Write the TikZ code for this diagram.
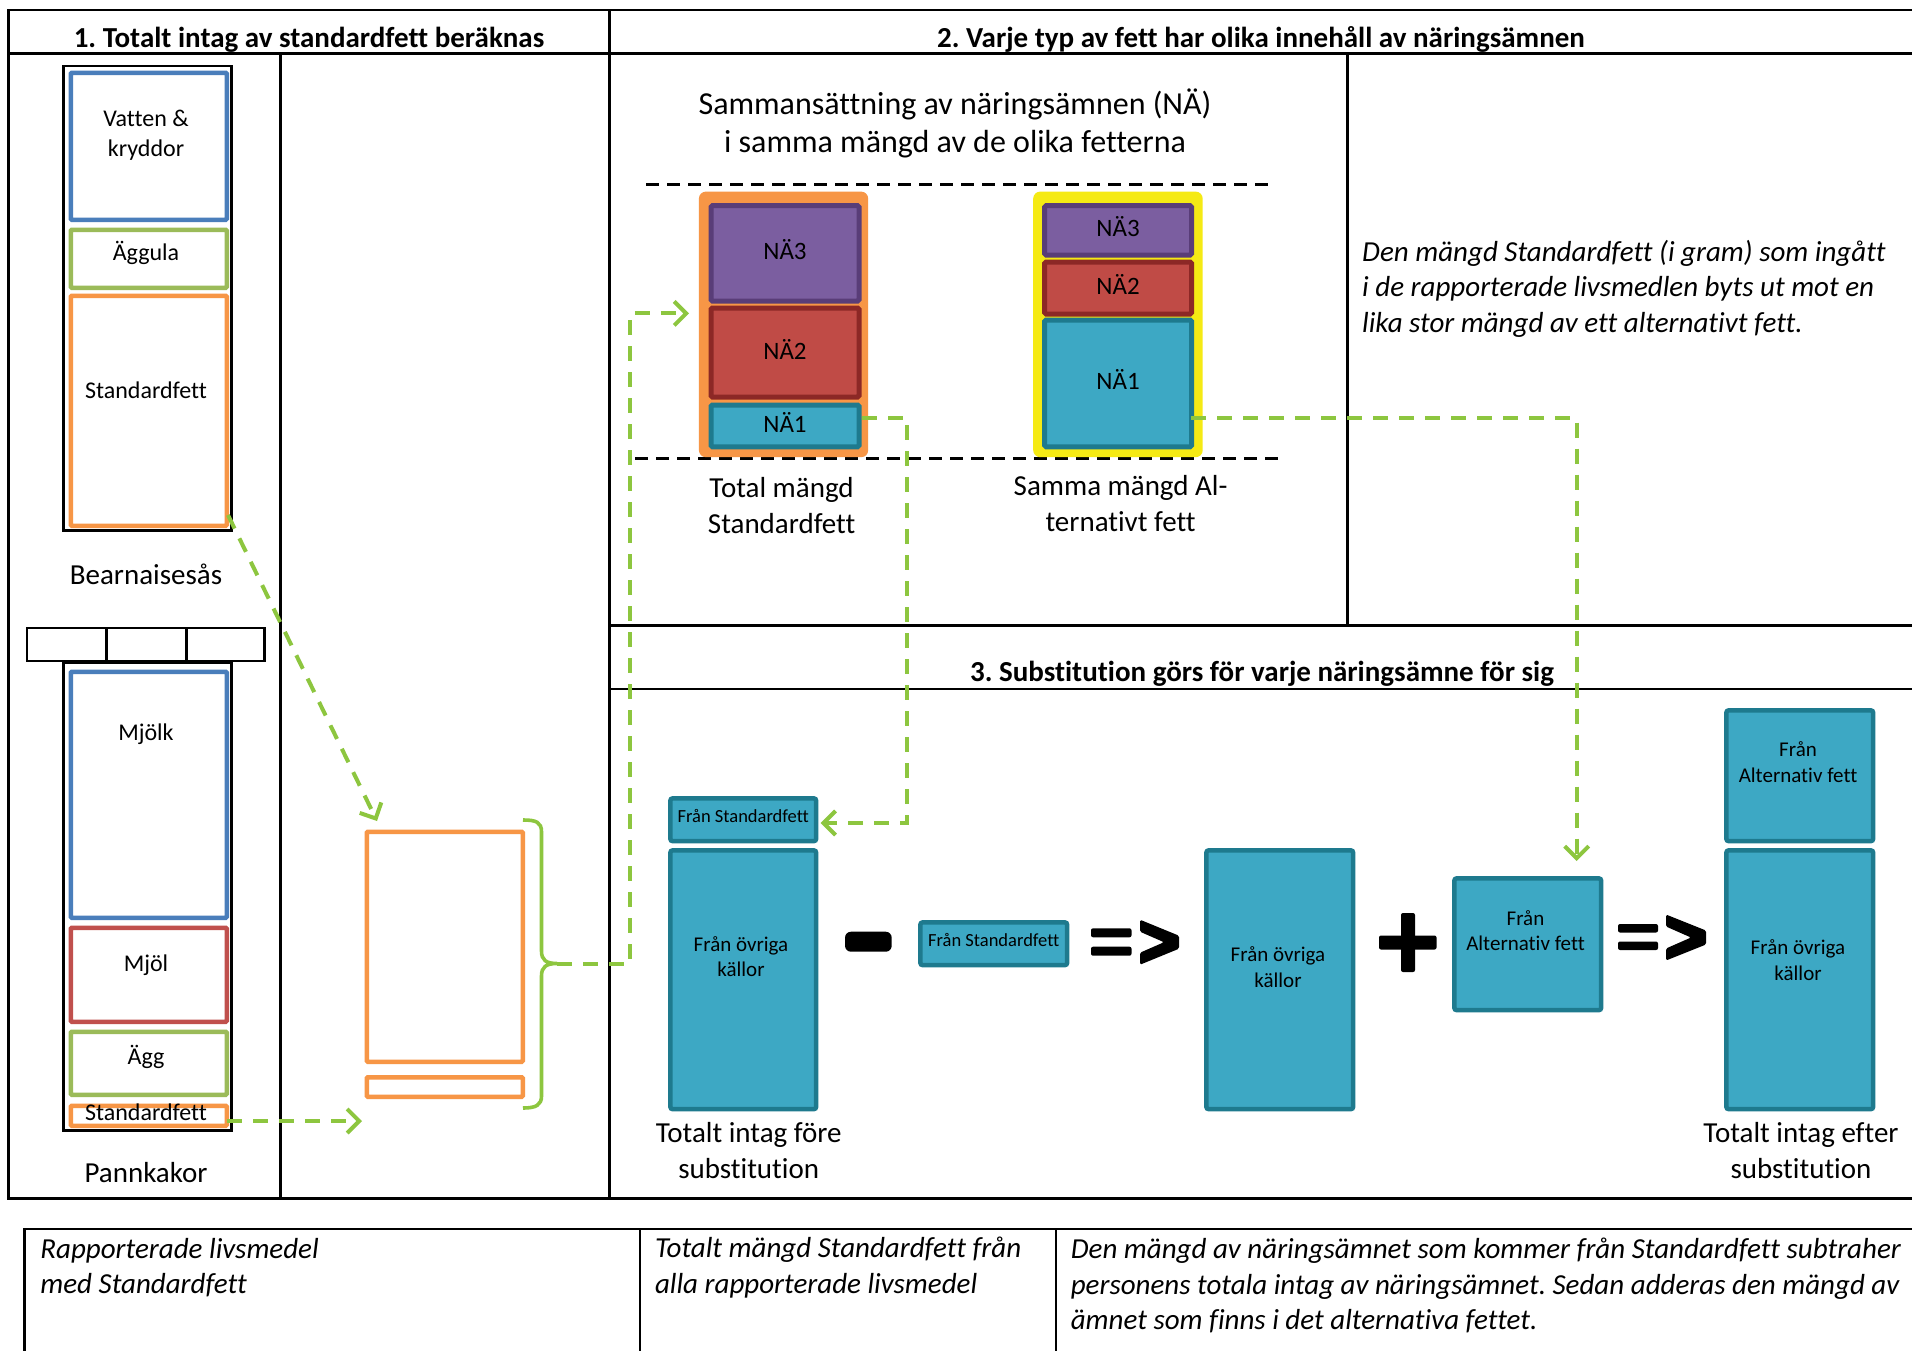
\documentclass[tikz,border=0pt]{standalone}
\usepackage{fontspec}
\setmainfont{Carlito}[Ligatures={NoCommon}]
\usetikzlibrary{arrows.meta}
\definecolor{gdash}{RGB}{141,198,63}
\definecolor{oblue}{RGB}{74,126,187}
\definecolor{ogreen}{RGB}{155,187,89}
\definecolor{oorange}{RGB}{247,150,70}
\definecolor{ored}{RGB}{192,80,77}
\definecolor{purplefill}{RGB}{123,94,160}
\definecolor{purpleline}{RGB}{89,61,120}
\definecolor{redfill}{RGB}{192,75,70}
\definecolor{redline}{RGB}{140,40,38}
\definecolor{tealfill}{RGB}{61,168,196}
\definecolor{tealline}{RGB}{30,122,142}
\definecolor{yel}{RGB}{245,234,20}
\frenchspacing
\begin{document}
\begin{tikzpicture}[x=1pt,y=-1pt,
  frame/.style={line width=2.6, black},
  cellbox/.style={draw, line width=2.6, inner sep=0, anchor=north west},
  ingbox/.style={draw, line width=4.5, inner sep=0, anchor=north west, rounded corners=1},
  lbl/.style={font=\fontsize{24}{29.5}\selectfont, align=center, inner sep=0},
  big/.style={font=\fontsize{29}{35.4}\selectfont, align=center, inner sep=0},
  hdr/.style={font=\fontsize{29}{35}\selectfont\bfseries, inner sep=0, anchor=base},
  nabox/.style={draw, line width=5, inner sep=0, anchor=north west, rounded corners=1.5, font=\fontsize{25}{30}\selectfont, text height=19pt, text depth=6pt},
  tealbox/.style={draw=tealline, fill=tealfill, line width=4.5, inner sep=0, anchor=north west, rounded corners=2},
  small/.style={font=\fontsize{18.5}{22}\selectfont, inner sep=0, text height=7.5pt, text depth=2.5pt},
  mid/.style={font=\fontsize{21}{25.6}\selectfont, align=center, inner sep=0},
  gd/.style={draw=gdash, line width=4, dash pattern=on 15pt off 11pt},
  garrow/.style={gd, -{Straight Barb[length=12pt,width=24pt]}},
  kdash/.style={line width=2.4, dash pattern=on 13pt off 8pt},
  ital/.style={font=\fontsize{29}{35.4}\selectfont\itshape, align=left, inner sep=0, anchor=west}
]
\useasboundingbox (0,0) rectangle (1912,1350);
\fill[white] (0,0) rectangle (1912,1350);

% ---------- frames ----------
\draw[frame] (1912,9.8) -- (8.5,9.8) -- (8.5,1198.7) -- (1912,1198.7);
\draw[frame] (8.5,53.7) -- (1912,53.7);
\draw[frame] (280.5,53.7) -- (280.5,1198.7);
\draw[frame] (609.7,9.8) -- (609.7,1198.7);
\draw[frame] (1347.4,53.7) -- (1347.4,625.5);
\draw[frame] (609.7,625.5) -- (1912,625.5);
\draw[frame] (609.7,689) -- (1912,689);
% bottom table
\draw[frame] (24.4,1352) -- (24.4,1229) -- (1912,1229);
\draw[frame] (640,1229) -- (640,1352);
\draw[frame] (1056,1229) -- (1056,1352);

% ---------- headers ----------
\node[hdr] (h1) at (309,47) {1. Totalt intag av standardfett beräknas};
\node[hdr] (h2) at (1261,47) {2. Varje typ av fett har olika innehåll av näringsämnen};
\node[hdr] (h3) at (1262,681) {3. Substitution görs för varje näringsämne för sig};

% ---------- Bearnaisesås ----------
\node[cellbox, minimum width=168.1, minimum height=464.4] (bear) at (62.3,64.7) {};
\node[ingbox, draw=oblue, minimum width=156, minimum height=147] (bvat) at (68.5,70.5) {};
\node[ingbox, draw=ogreen, minimum width=156, minimum height=58] (begg) at (68.5,227.5) {};
\node[ingbox, draw=oorange, minimum width=156, minimum height=230] (bstd) at (68.5,293.5) {};
\node[lbl] (tvat) at (146,135) {Vatten \&\\kryddor};
\node[lbl] (tegg) at (146,253) {Äggula};
\node[lbl] (tstd) at (146,390) {Standardfett};
\node[big] (tbear) at (146,574) {Bearnaisesås};

% ---------- Pannkakor ----------
\node[cellbox, minimum width=79.2, minimum height=33] (cell1) at (25.7,626.8) {};
\node[cellbox, minimum width=80.4, minimum height=33] (cell2) at (104.9,626.8) {};
\node[cellbox, minimum width=78, minimum height=33] (cell3) at (185.3,626.8) {};
\node[cellbox, minimum width=168.1, minimum height=467.8] (pann) at (62.3,661.3) {};
\node[ingbox, draw=oblue, minimum width=156, minimum height=246] (pmjk) at (68.5,669.5) {};
\node[ingbox, draw=ored, minimum width=156, minimum height=94] (pmjl) at (68.5,925.5) {};
\node[ingbox, draw=ogreen, minimum width=156, minimum height=63] (pegg) at (68.5,1029.5) {};
\node[ingbox, draw=oorange, minimum width=156, minimum height=20] (pstd) at (68.5,1103.5) {};
\node[lbl] (tmjk) at (146,734) {Mjölk};
\node[lbl] (tmjl) at (146,965) {Mjöl};
\node[lbl] (tpegg) at (146,1057) {Ägg};
\node[lbl] (tpstd) at (146,1112) {Standardfett};
\node[big] (tpann) at (146,1173) {Pannkakor};

% ---------- summed standard fat ----------
\node[ingbox, draw=oorange, minimum width=156, minimum height=230] (obig) at (364.5,829.5) {};
\node[ingbox, draw=oorange, minimum width=156, minimum height=19.5] (osmall) at (364.5,1075) {};
\draw[draw=gdash, line width=3.6] (523,820) .. controls (536,820) and (541.5,822) .. (541.5,832)
  -- (541.5,951) .. controls (541.5,960) and (546,963.5) .. (557,963.5)
  .. controls (546,963.5) and (541.5,967) .. (541.5,976)
  -- (541.5,1096) .. controls (541.5,1105) and (536,1108) .. (523,1108);
\coordinate (brtip) at (557,963.5);

% ---------- section 2 ----------
\node[font=\fontsize{32}{38.5}\selectfont, align=center, inner sep=0] (title2) at (955,123.5)
  {Sammansättning av näringsämnen (NÄ)\\i samma mängd av de olika fetterna};
\draw[kdash] (646,184.5) -- (1272,184.5);
\draw[kdash] (635,458.5) -- (1283,458.5);
\node[fill=oorange, rounded corners=7, minimum width=169.3, minimum height=265.6, anchor=north west, inner sep=0] (stdfat) at (698.7,191.4) {};
\node[fill=yel, rounded corners=7, minimum width=169.5, minimum height=265.6, anchor=north west, inner sep=0] (altfat) at (1033,191.4) {};
\node[nabox, draw=purpleline, fill=purplefill, minimum width=148, minimum height=95.3] (s3) at (708.5,203.2) {NÄ3};
\node[nabox, draw=redline, fill=redfill, minimum width=148, minimum height=89] (s2) at (708.5,305.5) {NÄ2};
\node[nabox, draw=tealline, fill=tealfill, minimum width=148, minimum height=41.8] (s1) at (708.5,402.5) {NÄ1};
\node[nabox, draw=purpleline, fill=purplefill, minimum width=146.8, minimum height=49.3] (a3) at (1042.2,203.2) {NÄ3};
\node[nabox, draw=redline, fill=redfill, minimum width=146.8, minimum height=52] (a2) at (1042.2,259.5) {NÄ2};
\node[nabox, draw=tealline, fill=tealfill, minimum width=146.8, minimum height=126.8] (a1) at (1042.2,317.5) {NÄ1};
\node[big] (tstdfat) at (781.6,505.4) {Total mängd\\Standardfett};
\node[big] (taltfat) at (1120.6,503.6) {Samma mängd Al-\\ternativt fett};
\node[ital] (expl2) at (1362,288.5) {Den mängd Standardfett (i gram) som ingått\\i de rapporterade livsmedlen byts ut mot en\\lika stor mängd av ett alternativt fett.};

% ---------- section 3 ----------
\node[tealbox, minimum width=145.6, minimum height=42.6, small] (A) at (668.2,796.2) {Från Standardfett};
\node[tealbox, minimum width=145.6, minimum height=258.6] (B) at (668.2,848.2) {};
\node[mid] (tB) at (741,956.6) {Från övriga\\källor};
\node[tealbox, minimum width=146.6, minimum height=42.6, small] (C) at (918.2,920.2) {Från Standardfett};
\node[tealbox, minimum width=146.6, minimum height=258.6] (D) at (1204.2,848.2) {};
\node[mid] (tD) at (1278,967) {Från övriga\\källor};
\node[tealbox, minimum width=146.6, minimum height=131.6] (E) at (1452.2,876.2) {};
\node[mid] (tE) at (1525.5,930.5) {Från\\Alternativ fett};
\node[tealbox, minimum width=146.6, minimum height=130.6] (F) at (1724.2,708.2) {};
\node[mid] (tF) at (1798,762) {Från\\Alternativ fett};
\node[tealbox, minimum width=146.6, minimum height=258.6] (G) at (1724.2,848.2) {};
\node[mid] (tG) at (1798,960) {Från övriga\\källor};
\node[big] (tfore) at (748.7,1150.4) {Totalt intag före\\substitution};
\node[big] (tefter) at (1801,1150.4) {Totalt intag efter\\substitution};

% operators
\fill[rounded corners=6] (845,931.7) rectangle (891.7,951.7);
\fill[rounded corners=2] (1091,928.3) rectangle (1131.5,937.3);
\fill[rounded corners=2] (1091,946.7) rectangle (1131.5,955.7);
\fill[rounded corners=1.5] (1140,919.7) -- (1179,935.7) -- (1179,948.7) -- (1140,964.7) -- (1140,952.7) -- (1164,942.2) -- (1140,931.7) -- cycle;
\fill[rounded corners=2] (1379,935.5) rectangle (1436.5,949.5);
\fill[rounded corners=2] (1401,913) rectangle (1415,972);
\fill[rounded corners=2] (1618,924) rectangle (1658,932.5);
\fill[rounded corners=2] (1618,941.5) rectangle (1658,950);
\fill[rounded corners=1.5] (1666,914.5) -- (1706,930.5) -- (1706,944.5) -- (1666,960.5) -- (1666,948.5) -- (1691,937.5) -- (1666,926.5) -- cycle;

% ---------- bottom table ----------
\node[ital] (r1) at (40.2,1267.5) {Rapporterade livsmedel\\med Standardfett};
\node[ital] (r2) at (654.8,1267.5) {Totalt mängd Standardfett från\\alla rapporterade livsmedel};
\node[ital] (r3) at (1070.6,1285.5) {Den mängd av näringsämnet som kommer från Standardfett subtraher\\personens totala intag av näringsämnet. Sedan adderas den mängd av\\ämnet som finns i det alternativa fettet.};

% ---------- green dashed connectors ----------
\coordinate (b1s) at (228,515);
\coordinate (b1e) at (377,821);
\draw[garrow] (b1s) -- (b1e);
\coordinate (p1s) at (227,1121);
\coordinate (p1e) at (362,1121);
\draw[garrow] (p1s) -- (p1e);
\coordinate (c3k) at (630.4,963.5);
\coordinate (c3e) at (689,313.4);
\draw[garrow] (brtip) -- (c3k) |- (c3e);
\coordinate (n1s) at (862,418.3);
\coordinate (c4k) at (907.2,418.3);
\coordinate (c4e) at (820.7,823);
\draw[garrow] (n1s) -- (c4k) |- (c4e);
\coordinate (a1s) at (1191,418.3);
\coordinate (c5e) at (1576.7,861);
\draw[garrow] (a1s) -| (c5e);
\end{tikzpicture}
\end{document}
